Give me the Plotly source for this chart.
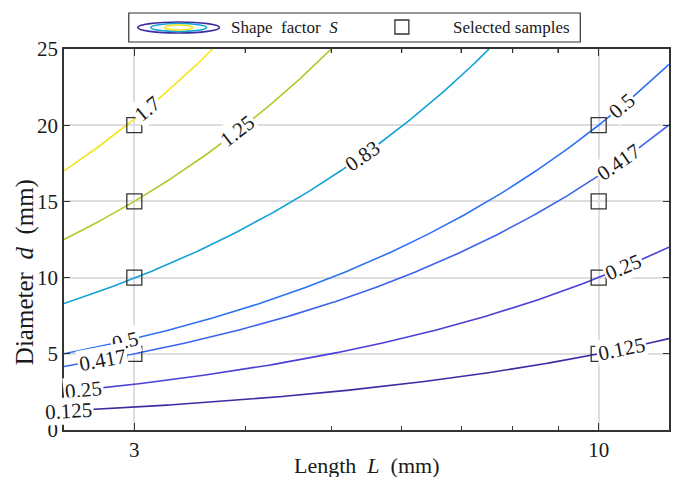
import math
import numpy as np
import plotly.graph_objects as go

# ---------------- data ----------------
levels = [0.125, 0.25, 0.417, 0.5, 0.83, 1.25, 1.7]          # shape factor S
level_labels = ["0.125", "0.25", "0.417", "0.5", "0.83", "1.25", "1.7"]
level_colors = ["#3b2ca3", "#4a3fd6", "#3a63ee", "#2d72f3", "#12a2d7", "#b5c72b", "#f6e51a"]
sample_L = [3, 3, 3, 3, 10, 10, 10, 10]                      # mm
sample_d = [5, 10, 15, 20, 5, 10, 15, 20]                    # mm
x_tick_vals = [3, 10]
x_minor_vals = [4, 5, 6, 7, 8, 9]
y_tick_vals = [0, 5, 10, 15, 20, 25]
# where each contour label sits (level, L)
label_spots = [(1.7, 3.10), (1.25, 3.92), (0.83, 5.42),
               (0.5, 10.62), (0.5, 2.93), (0.417, 10.54), (0.417, 2.765),
               (0.25, 10.67), (0.25, 2.627), (0.125, 10.62), (0.125, 2.532)]

X_RANGE = (2.5, 12.0)
Y_RANGE = (0, 25)

# shape factor S = d / (4 L)  ->  iso-line d = 4 S L
def iso_diameter(S, L):
    return 4.0 * S * np.asarray(L)

W, H = 678, 477
ML, MR, MT, MB = 64, 7, 49, 47
PW, PH = W - ML - MR, H - MT - MB
FONT = "Liberation Serif, Times New Roman, serif"
TXT = "#1a1a1a"

fig = go.Figure()
L_grid = np.geomspace(X_RANGE[0], X_RANGE[1], 300)
for S, c in zip(levels, level_colors):
    fig.add_trace(go.Scatter(x=L_grid, y=iso_diameter(S, L_grid), mode="lines",
                             line=dict(color=c, width=1.6), showlegend=False,
                             hoverinfo="skip"))

fig.add_trace(go.Scatter(x=sample_L, y=sample_d, mode="markers",
                         marker=dict(symbol="square-open", size=15, color="#333333",
                                     line=dict(width=1.3, color="#333333")),
                         showlegend=False))

# contour labels
px_per_decade = PW / math.log10(X_RANGE[1] / X_RANGE[0])
px_per_unit = PH / (Y_RANGE[1] - Y_RANGE[0])
lab_of = dict(zip(levels, level_labels))
for S, L in label_spots:
    d = float(iso_diameter(S, L))
    slope = px_per_unit * 4 * S * L * math.log(10) / px_per_decade
    ang = -math.degrees(math.atan(slope))
    fig.add_annotation(x=math.log10(L), y=d, xref="x", yref="y", text=lab_of[S],
                       showarrow=False, textangle=ang, bgcolor="white", borderpad=1,
                       font=dict(family=FONT, size=21, color=TXT))


def px(xp):
    return (xp - ML) / PW


def py(yp):
    return (H - MB - yp) / PH


# axis titles
fig.add_annotation(x=px(368), y=py(465), xref="paper", yref="paper",
                   xanchor="center", yanchor="middle",
                   text="Length&nbsp; <i>L</i>&nbsp; (mm)", showarrow=False,
                   font=dict(family=FONT, size=22, color=TXT))
fig.add_annotation(x=px(25), y=py(272), xref="paper", yref="paper",
                   xanchor="center", yanchor="middle",
                   text="Diameter&nbsp; <i>d</i>&nbsp; (mm)", showarrow=False, textangle=-90,
                   font=dict(family=FONT, size=25, color=TXT))

# legend drawn by hand
shapes = [dict(type="rect", xref="paper", yref="paper", x0=px(129), x1=px(582),
               y0=py(42), y1=py(13), line=dict(color="#333333", width=1.2),
               fillcolor="white")]
for (hw, hh, c) in [(41, 5.5, level_colors[0]), (28, 4, level_colors[4]), (14, 2.5, level_colors[6])]:
    shapes.append(dict(type="circle", xref="paper", yref="paper",
                       x0=px(179 - hw), x1=px(179 + hw), y0=py(27.5 + hh), y1=py(27.5 - hh),
                       line=dict(color=c, width=1.6)))
shapes.append(dict(type="rect", xref="paper", yref="paper", x0=px(396), x1=px(410),
                   y0=py(34), y1=py(20), line=dict(color="#333333", width=1.3)))
# minor ticks mirrored on the top frame edge
for v in x_minor_vals:
    xp = (math.log10(v) - math.log10(X_RANGE[0])) / math.log10(X_RANGE[1] / X_RANGE[0])
    shapes.append(dict(type="line", xref="paper", yref="paper", x0=xp, x1=xp,
                       y0=1, y1=1 - 4 / PH, line=dict(color="#333333", width=1.2)))
fig.add_annotation(x=px(230), y=py(27.5), xref="paper", yref="paper",
                   xanchor="left", yanchor="middle",
                   text="Shape&nbsp; factor&nbsp; <i>S</i>", showarrow=False,
                   font=dict(family=FONT, size=17, color=TXT))
fig.add_annotation(x=px(452), y=py(27.5), xref="paper", yref="paper",
                   xanchor="left", yanchor="middle",
                   text="Selected samples", showarrow=False,
                   font=dict(family=FONT, size=17, color=TXT))

fig.update_layout(
    width=W, height=H, margin=dict(l=ML, r=MR, t=MT, b=MB),
    paper_bgcolor="white", plot_bgcolor="white", shapes=shapes,
    font=dict(family=FONT, size=21, color=TXT),
    xaxis=dict(type="log", range=[math.log10(X_RANGE[0]), math.log10(X_RANGE[1])],
               tickmode="array", tickvals=x_tick_vals, ticktext=[str(v) for v in x_tick_vals],
               ticks="inside", ticklen=7, tickcolor="#333333", tickwidth=1.2,
               showgrid=True, gridcolor="#dedede", gridwidth=1.5,
               showline=True, linecolor="#333333", linewidth=1.5, mirror="ticks",
               zeroline=False,
               minor=dict(tickmode="array", tickvals=x_minor_vals, ticks="inside",
                          ticklen=4, tickcolor="#333333", tickwidth=1.2, showgrid=False),
               tickfont=dict(family=FONT, size=21, color=TXT)),
    yaxis=dict(range=list(Y_RANGE), tickmode="array", tickvals=y_tick_vals,
               ticks="inside", ticklen=6, tickcolor="#333333", tickwidth=1.2,
               showgrid=True, gridcolor="#dedede", gridwidth=1.5,
               showline=True, linecolor="#333333", linewidth=1.5, mirror="ticks",
               zeroline=False, tickfont=dict(family=FONT, size=21, color=TXT)),
)

fig.write_html("out.html")
